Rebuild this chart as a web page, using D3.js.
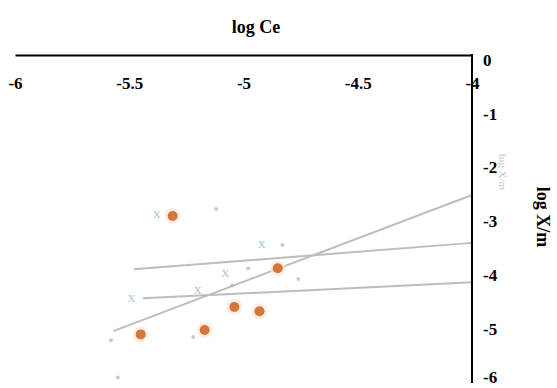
<!DOCTYPE html>
<html>
<head>
    <meta charset="utf-8">
    <style>
        body { margin: 0; background: #fff; }
        svg { display: block; font-family: 'Liberation Serif', 'Times New Roman', serif; }
        .tick line { display: none; }
    </style>
</head>
<body>
    <svg width="557" height="388"></svg>

<script src="https://d3js.org/d3.v7.min.js"></script>
<script>
    // values
    let xTicks = [-6, -5.5, -5, -4.5, -4]
    let yTicks = [0, -1, -2, -3, -4, -5, -6]

    // orange circles
    let seriesA = [
        { x: -5.31, y: -2.99 },
        { x: -4.85, y: -3.96 },
        { x: -5.04, y: -4.68 },
        { x: -4.93, y: -4.76 },
        { x: -5.17, y: -5.11 },
        { x: -5.45, y: -5.19 }
    ]
    // faint blue crosses
    let seriesB = [
        { x: -5.38, y: -2.96 },
        { x: -4.92, y: -3.51 },
        { x: -5.08, y: -4.05 },
        { x: -5.20, y: -4.37 },
        { x: -5.49, y: -4.52 }
    ]
    // faint grey dots
    let seriesC = [
        { x: -5.12, y: -2.86 },
        { x: -4.83, y: -3.53 },
        { x: -4.98, y: -3.96 },
        { x: -4.76, y: -4.16 },
        { x: -5.05, y: -4.28 },
        { x: -5.22, y: -5.24 },
        { x: -5.58, y: -5.30 },
        { x: -5.55, y: -5.99 }
    ]
    // trend lines (start, end)
    let trendLines = [
        [{ x: -5.57, y: -5.13 }, { x: -4, y: -2.60 }],
        [{ x: -5.48, y: -3.98 }, { x: -4, y: -3.49 }],
        [{ x: -5.44, y: -4.52 }, { x: -4, y: -4.22 }]
    ]

    let serif = "'Liberation Serif', 'Times New Roman', serif"
    let svg = d3.select("svg")

    let x = d3.scaleLinear()
        .domain([-6, -4])
        .range([15, 472])

    let y = d3.scaleLinear()
        .domain([0, -6])
        .range([55, 378])

    // trend lines first, markers on top
    let line = d3.line()
        .x(d => x(d.x))
        .y(d => y(d.y))

    svg.append("g")
        .selectAll("path")
        .data(trendLines)
        .join("path")
        .attr("d", d => line(d))
        .style("fill", "none")
        .style("stroke", "#bdbdbd")
        .style("stroke-width", 2)

    // grey dots
    svg.append("g")
        .selectAll("circle")
        .data(seriesC)
        .join("circle")
        .attr("cx", d => x(d.x))
        .attr("cy", d => y(d.y))
        .attr("r", 2)
        .style("fill", "#a9a9b4")
        .style("opacity", 0.6)

    // blue crosses
    svg.append("g")
        .selectAll("text")
        .data(seriesB)
        .join("text")
        .attr("x", d => x(d.x))
        .attr("y", d => y(d.y))
        .attr("dy", "0.35em")
        .attr("text-anchor", "middle")
        .attr("font-size", 11)
        .style("fill", "#8db5cf")
        .style("opacity", 0.8)
        .text("X")

    // orange circles with soft halo
    let orange = svg.append("g")
    orange.selectAll(".halo")
        .data(seriesA)
        .join("circle")
        .attr("class", "halo")
        .attr("cx", d => x(d.x))
        .attr("cy", d => y(d.y))
        .attr("r", 8)
        .style("fill", "#fbe3d0")
        .style("opacity", 0.6)
    orange.selectAll(".dot")
        .data(seriesA)
        .join("circle")
        .attr("class", "dot")
        .attr("cx", d => x(d.x))
        .attr("cy", d => y(d.y))
        .attr("r", 5)
        .style("fill", "#d4773a")

    // x axis on top
    let xAxis = svg.append("g")
        .attr("class", "x axis")
        .attr("transform", `translate(0,${y(0)})`)
        .call(d3.axisBottom(x).tickValues(xTicks).tickSize(0).tickPadding(22).tickFormat(d => d))
        .attr("font-family", serif)
        .attr("font-size", 17)
        .attr("font-weight", "bold")
    xAxis.select(".domain").style("stroke", "#000").style("stroke-width", 2)
    xAxis.selectAll(".tick text").style("fill", "#000")

    // y axis on the right
    let yAxis = svg.append("g")
        .attr("class", "y axis")
        .attr("transform", `translate(${x(-4)},0)`)
        .call(d3.axisRight(y).tickValues(yTicks).tickSize(0).tickPadding(11).tickFormat(d => d))
        .attr("font-family", serif)
        .attr("font-size", 17)
        .attr("font-weight", "bold")
    yAxis.select(".domain").remove()
    yAxis.selectAll(".tick text")
        .style("fill", "#000")
        .attr("dy", d => d == -6 ? "0.25em" : "0.6em")
    yAxis.append("line")
        .attr("y1", y(0) - 1)
        .attr("y2", y(-6) + 5)
        .style("stroke", "#000")
        .style("stroke-width", 2)

    // titles
    svg.append("text")
        .attr("x", 256)
        .attr("y", 33)
        .attr("text-anchor", "middle")
        .attr("font-size", 18)
        .attr("font-weight", "bold")
        .text("log Ce")

    svg.append("text")
        .attr("transform", "translate(537,217) rotate(90)")
        .attr("text-anchor", "middle")
        .attr("font-size", 18)
        .attr("font-weight", "bold")
        .text("log X/m")

    // ghost of a small title
    svg.append("text")
        .attr("transform", "translate(499,172) rotate(90)")
        .attr("text-anchor", "middle")
        .attr("font-size", 11)
        .style("fill", "#999")
        .style("opacity", 0.55)
        .text("log X/m")
</script>
</body>
</html>
